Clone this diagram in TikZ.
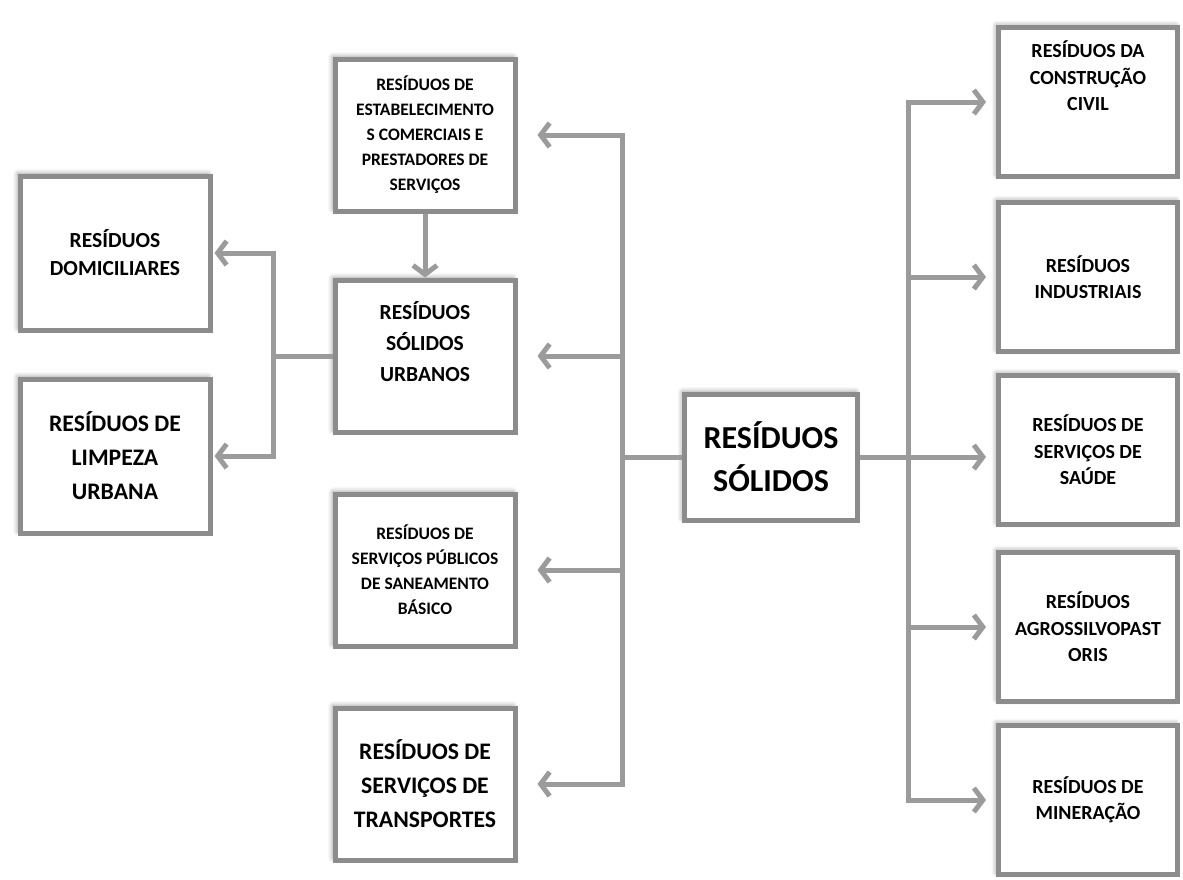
\documentclass[tikz,border=0pt]{standalone}
\usepackage{fontspec}
\setmainfont{Carlito}
\usetikzlibrary{arrows.meta, positioning, shadows.blur}
\definecolor{boxgrey}{RGB}{140,140,140}
\definecolor{linkgrey}{RGB}{155,155,155}
\tikzset{
  box/.style = {draw=boxgrey, line width=5pt, fill=white, align=center,
                inner sep=2pt,
                blur shadow={shadow xshift=-2pt, shadow yshift=2pt,
                             shadow blur radius=5pt, shadow opacity=45}},
  mid box/.style = {box, minimum width=180pt, minimum height=152pt},
  side box/.style = {box, minimum width=190pt, minimum height=154pt},
  right box/.style = {box, minimum width=179pt, minimum height=149pt},
  root box/.style = {box, minimum width=173pt, minimum height=126pt},
  small text/.style = {font=\bfseries\fontsize{17.5}{25}\selectfont},
  medium text/.style = {font=\bfseries\fontsize{21.5}{31}\selectfont},
  right text/.style = {font=\bfseries\fontsize{20}{26.5}\selectfont},
  large text/.style = {font=\bfseries\fontsize{23.7}{34}\selectfont},
  root text/.style = {font=\bfseries\fontsize{32}{43}\selectfont},
  trunk/.style = {line width=5pt, linkgrey},
  link/.style = {trunk, arrows={-Straight Barb[length=9pt, width=24pt]}},
}

\begin{document}
\begin{tikzpicture}[x=1pt, y=-1pt]
  \useasboundingbox (0,0) rectangle (1183,879);

  %% The root and the middle column
  \node [root box, root text] (root) at (771,457) {RESÍDUOS\\SÓLIDOS};
  \node [mid box, small text] (comercio) at (425,135)
        {RESÍDUOS DE\\ESTABELECIMENTO\\S COMERCIAIS E\\PRESTADORES DE\\SERVIÇOS};
  \node [mid box, medium text, text depth=30pt] (urbanos) at (425,356)
        {RESÍDUOS\\SÓLIDOS\\URBANOS};
  \node [mid box, small text] (saneamento) at (425,570)
        {RESÍDUOS DE\\SERVIÇOS PÚBLICOS\\DE SANEAMENTO\\BÁSICO};
  \node [mid box, large text] (transportes) at (425,784)
        {RESÍDUOS DE\\SERVIÇOS DE\\TRANSPORTES};

  %% The left column, fed by the urban waste
  \node [side box, medium text, font=\bfseries\fontsize{21.5}{28}\selectfont]
        (domiciliares) at (115,253) {RESÍDUOS\\DOMICILIARES};
  \node [side box, large text] (limpeza) at (115,456) {RESÍDUOS DE\\LIMPEZA\\URBANA};

  %% The right column
  \node [right box, right text, text depth=52pt] (construcao) at (1088,102)
        {RESÍDUOS DA\\CONSTRUÇÃO\\CIVIL};
  \node [right box, right text] (industriais) at (1088,277) {RESÍDUOS\\INDUSTRIAIS};
  \node [right box, right text] (saude) at (1088,450) {RESÍDUOS DE\\SERVIÇOS DE\\SAÚDE};
  \node [right box, right text] (agro) at (1088,627) {RESÍDUOS\\AGROSSILVOPAST\\ORIS};
  \node [right box, right text] (mineracao) at (1088,800) {RESÍDUOS DE\\MINERAÇÃO};

  %% Branch points of the connectors
  \coordinate (left trunk) at (622,457);
  \coordinate (right trunk) at (908,457);
  \coordinate (urban trunk) at (273,356);

  %% Left side of the root
  \draw [trunk] (root.west) -- (left trunk);
  \draw [link, shorten >=20pt] (left trunk) |- (comercio.east);
  \draw [link, shorten >=20pt] (left trunk) |- (urbanos.east);
  \draw [link, shorten >=20pt] (left trunk) |- (saneamento.east);
  \draw [link, shorten >=20pt] (left trunk) |- (transportes.east);
  \draw [link] (comercio.south) -- (urbanos.north);

  %% Urban waste splits in two
  \draw [trunk] (urbanos.west) -- (urban trunk);
  \draw [link, shorten >=2pt] (urban trunk) |- (domiciliares.east);
  \draw [link, shorten >=2pt] (urban trunk) |- (limpeza.east);

  %% Right side of the root
  \draw [link, shorten >=10pt] (root.east) -- (root.east -| saude.west);
  \draw [link, shorten >=10pt] (right trunk) |- (construcao.west);
  \draw [link, shorten >=10pt] (right trunk) |- (industriais.west);
  \draw [link, shorten >=10pt] (right trunk) |- (agro.west);
  \draw [link, shorten >=10pt] (right trunk) |- (mineracao.west);
\end{tikzpicture}
\end{document}
